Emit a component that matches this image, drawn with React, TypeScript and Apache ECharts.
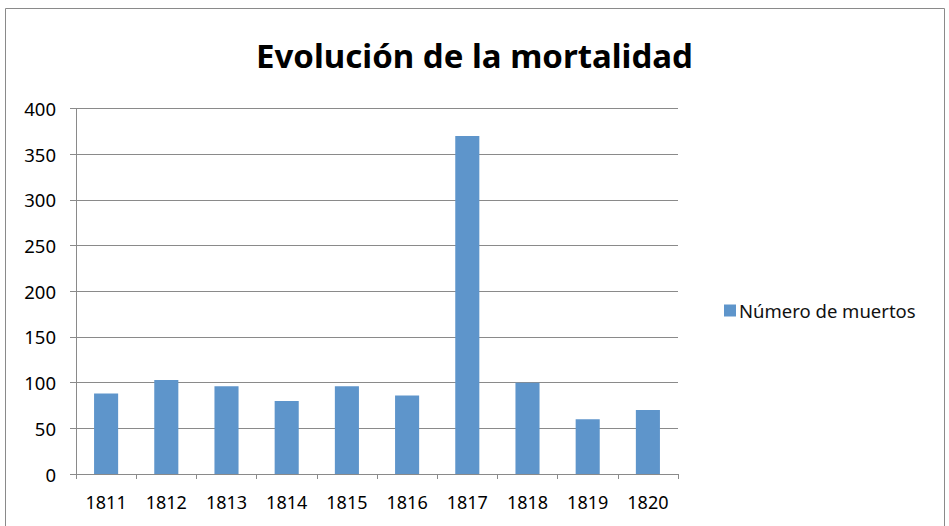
import React, { useEffect, useRef } from "react";
import * as echarts from "echarts";

const categories = ["1811", "1812", "1813", "1814", "1815", "1816", "1817", "1818", "1819", "1820"];
const muertos = [88, 103, 96, 80, 96, 86, 370, 100, 60, 70];
const seriesName = "Número de muertos";
const titleText = "Evolución de la mortalidad";

export default function App() {
  const ref = useRef<HTMLDivElement>(null);
  useEffect(() => {
    document.body.style.margin = "0";
    const chart = echarts.init(ref.current!, null, { renderer: "svg" });
    const font = "'Noto Sans', 'Open Sans', sans-serif";
    chart.setOption({
      animation: false,
      backgroundColor: "#ffffff",
      title: {
        text: titleText,
        left: "center",
        top: 34,
        textStyle: { fontFamily: font, fontWeight: "bold", fontSize: 33, color: "#000" },
      },
      graphic: [
        {
          type: "rect",
          shape: { x: 5.5, y: 8.5, width: 939, height: 530 },
          style: { fill: "none", stroke: "#8a8a8a", lineWidth: 1 },
          silent: true,
        },
      ],
      legend: {
        orient: "vertical",
        left: 719,
        top: 296,
        itemWidth: 12,
        itemHeight: 12,
        itemGap: 4,
        icon: "rect",
        textStyle: { fontFamily: font, fontSize: 18.5, color: "#111", padding: [0, 0, 0, -2] },
        data: [seriesName],
      },
      grid: { left: 76, right: 271, top: 108.5, bottom: 52, containLabel: false },
      xAxis: {
        type: "category",
        data: categories,
        boundaryGap: true,
        axisLine: { lineStyle: { color: "#8a8a8a", width: 1 } },
        axisTick: { show: true, length: 5, alignWithLabel: false, lineStyle: { color: "#8a8a8a" } },
        axisLabel: { fontFamily: font, fontSize: 18, color: "#000", margin: 19 },
      },
      yAxis: {
        type: "value",
        min: 0,
        max: 400,
        interval: 50,
        axisLine: { show: true, lineStyle: { color: "#8a8a8a", width: 1 } },
        axisTick: { show: true, length: 6, lineStyle: { color: "#8a8a8a" } },
        axisLabel: { fontFamily: font, fontSize: 18.5, color: "#000", margin: 20 },
        splitLine: { show: true, lineStyle: { color: "#8a8a8a", width: 1 } },
      },
      series: [
        {
          name: seriesName,
          type: "bar",
          data: muertos,
          barCategoryGap: "60%",
          itemStyle: { color: "#5e95cb" },
        },
      ],
    });
    return () => chart.dispose();
  }, []);
  return <div ref={ref} style={{ position: "absolute", left: 0, top: 0, width: 949, height: 526 }} />;
}
